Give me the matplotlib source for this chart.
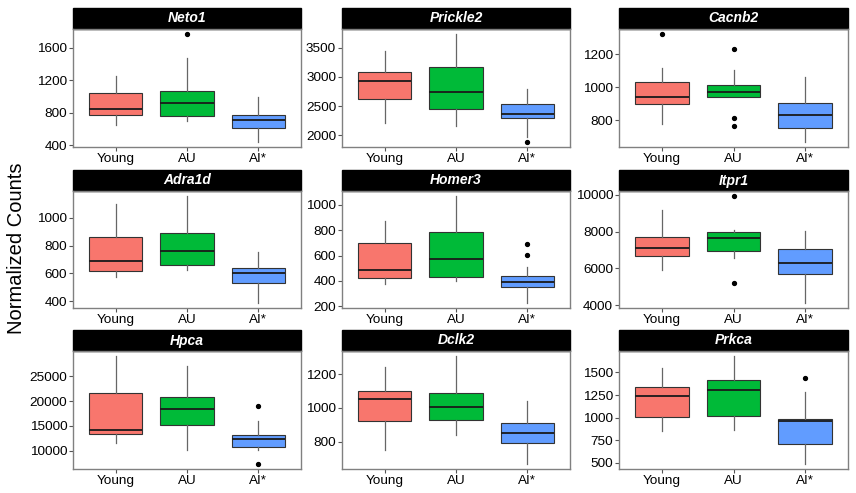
"""
Box plots of normalized counts for nine genes across Young / AU / AI* groups,
drawn as a 3x3 grid of facets with black strip headers.
"""

import matplotlib
matplotlib.use("Agg")
import matplotlib.pyplot as plt
from matplotlib.patches import Rectangle

plt.rcParams['font.family'] = ['Liberation Sans', 'DejaVu Sans']

# Data (box stats per gene, order Young, AU, AI*)
GENES = ["Neto1", "Prickle2", "Cacnb2",
         "Adra1d", "Homer3", "Itpr1",
         "Hpca", "Dclk2", "Prkca"]
GROUPS = ["Young", "AU", "AI*"]

WHISLO = [[649, 702, 444], [2206, 2155, 1971], [778, 941, 670],
          [571, 621, 388], [371, 395, 227], [5892, 6555, 4146],
          [11480, 10203, 10203], [749, 838, 669], [852, 863, 489]]
Q1 = [[772, 756, 612], [2614, 2444, 2291], [899, 941, 753],
      [616, 659, 528], [424, 434, 350], [6679, 6922, 5677],
      [13439, 15203, 10750], [924, 928, 790], [1003, 1022, 709]]
MEDIAN = [[842, 923, 710], [2937, 2750, 2371], [943, 973, 832],
          [692, 764, 602], [489, 569, 387], [7084, 7623, 6270],
          [14108, 18318, 12426], [1050, 1004, 848], [1234, 1309, 967]]
Q3 = [[1042, 1063, 775], [3082, 3177, 2529], [1030, 1012, 905],
      [860, 893, 638], [700, 784, 436], [7693, 8000, 7046],
      [21621, 20750, 13095], [1100, 1088, 910], [1343, 1417, 989]]
WHISHI = [[1250, 1467, 996], [3444, 3728, 2791], [1119, 1103, 1061],
          [1100, 1156, 757], [876, 1068, 509], [9191, 8086, 8054],
          [29054, 27027, 16074], [1242, 1306, 1042], [1552, 1679, 1287]]
FLIERS = [[[], [1762], []], [[], [], [1893]], [[1321], [1232, 812, 765], []],
          [[], [], []], [[], [], [689, 603]], [[], [9908, 5224], []],
          [[], [], [19068, 7365]], [[], [], []], [[], [], [1436]]]

YTICKS = [[400, 800, 1200, 1600], [2000, 2500, 3000, 3500], [800, 1000, 1200],
          [400, 600, 800, 1000], [200, 400, 600, 800, 1000], [4000, 6000, 8000, 10000],
          [10000, 15000, 20000, 25000], [800, 1000, 1200], [500, 750, 1000, 1250, 1500]]

COLORS = ["#F8766D", "#00BA38", "#619CFF"]

# Layout in pixels
W, H = 856, 493
COL_LEFT = [73, 342, 619]
COL_WIDTH = [228, 228, 229]
ROW_TOP = [29, 191, 351]
ROW_BOTTOM = [147, 308, 469]
STRIP_H = 21

fig = plt.figure(figsize=(W / 100, H / 100), dpi=100)

for i, gene in enumerate(GENES):
    r, c = divmod(i, 3)
    left = COL_LEFT[c] / W
    bottom = 1 - ROW_BOTTOM[r] / H
    height = (ROW_BOTTOM[r] - ROW_TOP[r]) / H
    ax = fig.add_axes([left, bottom, COL_WIDTH[c] / W, height])

    stats = []
    for g in range(3):
        stats.append({
            'whislo': WHISLO[i][g], 'q1': Q1[i][g], 'med': MEDIAN[i][g],
            'q3': Q3[i][g], 'whishi': WHISHI[i][g], 'fliers': FLIERS[i][g],
        })
    bp = ax.bxp(stats, positions=[1, 2, 3], widths=0.75, patch_artist=True,
                showcaps=False,
                boxprops=dict(edgecolor='#333333', linewidth=0.8),
                medianprops=dict(color='#1a1a1a', linewidth=1.3),
                whiskerprops=dict(color='#666666', linewidth=0.9),
                flierprops=dict(marker='o', markersize=2.8, markerfacecolor='black',
                                markeredgecolor='black'))
    for patch, col in zip(bp['boxes'], COLORS):
        patch.set_facecolor(col)

    # ggplot-style 5% expansion of the data range
    lo = min(WHISLO[i] + [v for f in FLIERS[i] for v in f])
    hi = max(WHISHI[i] + [v for f in FLIERS[i] for v in f])
    pad = (hi - lo) * 0.05
    ax.set_ylim(lo - pad, hi + pad)
    ax.set_xlim(0.4, 3.6)

    ax.set_yticks(YTICKS[i])
    ax.set_xticks([1, 2, 3])
    ax.set_xticklabels(GROUPS)
    ax.tick_params(axis='both', length=3, width=0.8, color='#555555',
                   labelsize=9.7, labelcolor='black', pad=1.2)

    for side in ['left', 'bottom', 'right', 'top']:
        ax.spines[side].set_color('#808080')
        ax.spines[side].set_linewidth(1.0)

    # strip header
    sh = STRIP_H / (ROW_BOTTOM[r] - ROW_TOP[r])
    ax.add_patch(Rectangle((0, 1), 1, sh, transform=ax.transAxes,
                           facecolor='black', edgecolor='black', clip_on=False))
    ax.text(0.5, 1 + sh / 2, gene, transform=ax.transAxes, ha='center', va='center',
            color='white', fontsize=10, fontweight='bold', fontstyle='italic')

fig.text(17 / W, 1 - 248 / H, "Normalized Counts", rotation=90,
         ha='center', va='center', fontsize=14.5)

fig.savefig("out.png", dpi=100)
